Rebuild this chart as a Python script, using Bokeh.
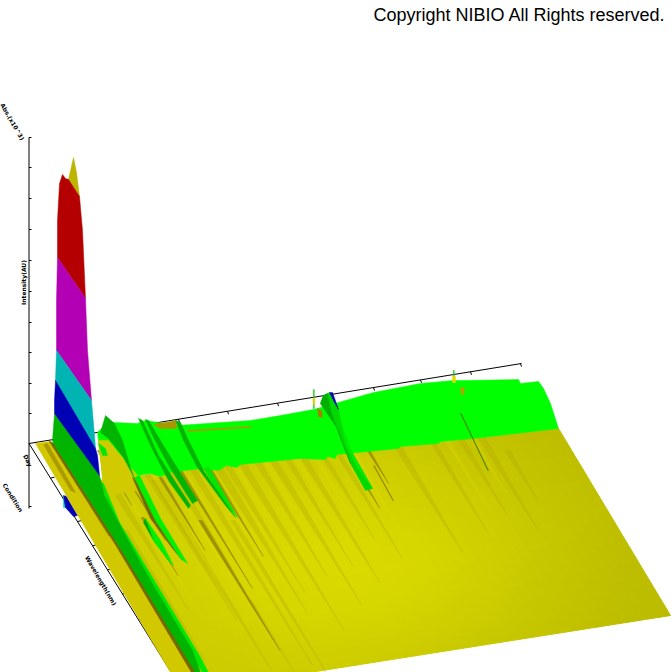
from bokeh.plotting import figure
from bokeh.models import ColumnDataSource
from bokeh.core.properties import value
from bokeh.embed import file_html
from bokeh.resources import INLINE

# ---- chart data (image coordinates) ----
copyright_text = "Copyright NIBIO All Rights reserved."
axis_labels = ["Abs.(x10^3)", "Intensity(AU)", "Day", "Condition", "Wavelength(nm)"]

z_axis = [(28.5, 137), (28.5, 508)]
back_axis = [(28.5, 443), (521, 363)]
front_axis = [(28.5, 443), (172, 674)]
z_ticks = [137, 167, 198, 229, 260, 291, 322, 352, 383, 413, 506]
back_ticks_x = [178, 227, 277, 325, 373, 420, 470, 520]
front_ticks_x = [50, 63, 77, 92, 107, 122, 138, 153, 168]

floor_corners = [(80, 482), (558, 428), (670, 615), (195, 690)]
shade_table = [
    [204, 204, 205, 206, 206, 205, 202, 197, 193, 189],
    [205, 207, 209, 211, 211, 209, 206, 200, 195, 190],
    [206, 209, 212, 214, 214, 212, 208, 203, 196, 191],
    [206, 210, 214, 217, 218, 215, 210, 204, 197, 191],
    [205, 209, 214, 217, 218, 216, 210, 203, 196, 190],
    [204, 208, 212, 215, 215, 212, 207, 200, 194, 189],
    [203, 205, 209, 210, 210, 207, 203, 197, 192, 188],
    [202, 203, 204, 204, 203, 201, 198, 194, 190, 187],
]

peak_olive = [(73, 157), (76, 172), (79, 196), (68, 179)]
peak_red = [(62, 174), (65, 178), (68, 179), (79, 196), (82, 230), (85, 298), (57, 257), (57, 220), (59, 183)]
peak_magenta = [(57, 257), (85, 298), (87, 350), (91, 400), (56, 350), (56, 300)]
peak_cyan = [(56, 350), (91, 400), (94, 435), (95, 448), (55, 380)]
peak_blue = [(55, 380), (95, 448), (97, 455), (99, 475), (54, 413), (54, 400)]
ridge_green = [(54, 413), (99, 475), (104, 495), (125, 535), (150, 580), (192, 650), (200, 672),
               (195, 672), (120, 548), (53, 443), (52, 440)]
ridge_brown = [(53, 443), (120, 548), (197, 672), (191, 672), (116, 546), (49, 441)]
left_yellow = [(35, 443), (50, 441), (53, 443), (117, 543), (197, 672), (170, 672)]
left_dark_1 = [(43, 444), (47, 443), (75, 492), (70, 490)]
left_dark_2 = [(49, 441), (53, 443), (112, 537), (108, 535)]
back_blue = [(63, 495), (66, 496), (77, 515), (73, 516), (65, 507)]
back_cyan = [(63, 495), (64, 496), (66, 507), (63, 507)]

green_top = [(97, 432), (105, 424), (113, 422), (137, 423), (145, 420), (177, 425), (250, 420), (280, 415),
             (313, 409), (338, 402), (373, 392), (420, 383), (453, 380), (462, 380), (518, 379), (520, 383),
             (538, 381), (543, 388), (550, 403), (558, 428), (473, 438), (440, 441), (438, 443), (400, 446),
             (398, 448), (347, 453), (336, 454), (335, 458), (327, 456), (325, 459), (300, 458), (280, 460),
             (240, 464), (236, 467), (226, 465), (218, 470), (200, 468), (185, 470), (170, 472), (160, 476),
             (150, 473), (137, 475), (103, 480)]
notch_yellow = [(98, 440), (108, 440), (122, 457), (137, 475), (137, 490), (104, 495)]

spike_a = [(105, 415), (114, 423), (122, 440), (130, 467), (134, 478), (123, 457), (108, 438), (100, 432)]
spike_a_lit = [(134, 477), (139, 475), (160, 518), (187, 563), (180, 558), (155, 520)]
spike_a_dark = [(132, 477), (136, 480), (157, 520), (182, 560), (172, 548), (150, 518)]
spike_b1 = [(138, 418), (142, 420), (158, 455), (190, 505), (188, 508), (168, 480), (150, 445)]
spike_b2 = [(145, 419), (148, 420), (166, 450), (197, 500), (192, 503), (170, 468), (153, 437)]
spike_c = [(175, 420), (180, 422), (188, 440), (203, 470), (235, 517), (225, 505), (197, 467), (183, 440)]
spike_c_lit = [(203, 468), (208, 466), (237, 517), (226, 505)]
spike_d_lit = [(145, 518), (160, 540), (173, 565), (168, 560), (153, 540), (150, 530)]
spike_d_dark = [(145, 518), (150, 530), (160, 548), (168, 560), (153, 540), (143, 522)]
spike_e = [(98, 443), (105, 448), (107, 455), (102, 455)]
long_lit = [(100, 481), (103, 483), (119, 522), (152, 577), (199, 655), (208, 672), (202, 672), (150, 583), (115, 525)]
olive_base = [(153, 424), (176, 420), (176, 428), (160, 428)]

hump_body = [(320, 403), (323, 395), (329, 392), (333, 400), (338, 409), (345, 440), (372, 488), (365, 490),
             (350, 463), (337, 428)]
hump_shade = [(320, 403), (323, 395), (327, 393), (330, 410), (340, 438), (350, 463), (337, 428)]
hump_lit = [(340, 420), (352, 453), (372, 488), (357, 467), (345, 443)]
hump_blue = [(329, 392), (332, 392), (338, 409), (334, 402)]
thin_spike_1 = [(312.8, 389), (313.8, 389), (313.8, 408), (312.8, 408)]
thin_spike_2 = [(452.8, 370), (453.8, 370), (453.8, 380), (452.8, 380)]
thin_yellow_1 = [(312.5, 398), (314.5, 398), (314, 404), (313, 404)]
thin_yellow_2 = [(452, 376), (455, 376), (455, 382), (452, 382)]
base_brown_1 = [(317, 408), (321, 410), (322, 417), (318, 416)]
base_brown_2 = [(460, 387), (464, 388), (463, 394), (461, 394)]
line_brown = [(187, 430), (250, 426), (250, 427), (187, 431)]
thin_dark_1 = [(460, 413), (460.7, 413), (488, 470), (487.3, 470)]
thin_dark_2 = [(373, 465), (373.7, 465), (393, 500), (392.3, 500)]

# x0, y0, run down the floor, width
dark_streaks = [
    (133, 478, 75, 3), (142, 517, 58, 3), (160, 477, 73, 3), (180, 470, 118, 3), (208, 466, 90, 3),
    (200, 520, 130, 3.5), (98, 450, 55, 2.5), (110, 450, 90, 2), (368, 450, 33, 2.5), (352, 463, 45, 3),
]
olive_streaks = [
    (233, 520, 152, 5), (250, 600, 72, 3), (145, 470, 150, 6), (155, 480, 190, 7), (170, 470, 170, 7),
    (190, 465, 200, 6), (215, 462, 150, 8), (225, 462, 130, 6), (240, 460, 170, 7), (255, 458, 120, 6),
    (270, 455, 150, 7), (285, 455, 110, 5), (300, 452, 130, 6), (320, 450, 90, 5), (335, 448, 110, 5),
    (395, 442, 110, 7), (430, 438, 95, 5), (458, 435, 80, 6), (507, 450, 50, 5), (478, 432, 100, 6),
    (125, 530, 130, 5), (115, 490, 120, 6),
]
light_streaks = [
    (150, 470, 120, 5), (165, 470, 160, 5), (182, 468, 130, 4), (202, 464, 170, 5), (232, 460, 140, 5),
    (262, 456, 130, 5), (292, 452, 150, 5), (312, 452, 100, 4), (350, 448, 90, 5), (445, 438, 70, 4),
    (470, 434, 60, 4), (130, 500, 120, 5),
]

# ---- page ----
p = figure(width=672, height=672, x_range=(0, 672), y_range=(672, 0), x_axis_type=None, y_axis_type=None,
           output_backend="svg", toolbar_location=None, min_border=0, outline_line_color=None,
           background_fill_color="white", border_fill_color="white")
p.grid.visible = False


def poly(pts, color, alpha=1.0):
    p.patch([a for a, _ in pts], [b for _, b in pts], fill_color=color, fill_alpha=alpha,
            line_color=color, line_alpha=alpha, line_width=0.5)


def line(pts, width=1.0):
    p.line([a for a, _ in pts], [b for _, b in pts], line_color="black", line_width=width)


def streak(s, color, alpha):
    x0, y0, run, w = s
    x1, y1 = x0 + 0.61 * run, y0 + run
    mx, my = x0 + 0.61 * run * 0.15, y0 + run * 0.15
    poly([(x0 - w / 2, y0), (x0 + w / 2, y0), (mx + w / 2, my), (x1, y1), (mx - w / 2, my)], color, alpha)


line(z_axis)
line(back_axis)
line(front_axis)
for y in z_ticks:
    line([(28.5, y), (31, y)])
for x in back_ticks_x:
    t = (x - back_axis[0][0]) / (back_axis[1][0] - back_axis[0][0])
    y = back_axis[0][1] + t * (back_axis[1][1] - back_axis[0][1])
    line([(x, y), (x + 1, y + 3)])
for x in front_ticks_x:
    t = (x - front_axis[0][0]) / (front_axis[1][0] - front_axis[0][0])
    y = front_axis[0][1] + t * (front_axis[1][1] - front_axis[0][1])
    line([(x, y), (x + 4, y - 1)])

poly(back_cyan, "#00d8d8")
poly(back_blue, "#0000b4")

# shaded floor: the shade table is smoothed across fine cells
(ax, ay), (bx, by), (cx, cy), (dx, dy) = floor_corners


def floor_point(u, v):
    return (ax + (bx - ax) * u + (dx - ax) * v + (cx - bx - dx + ax) * u * v,
            ay + (by - ay) * u + (dy - ay) * v + (cy - by - dy + ay) * u * v)


def shade(u, v):
    rows, cols = len(shade_table) - 1, len(shade_table[0]) - 1
    r, c = min(v * rows, rows - 1e-6), min(u * cols, cols - 1e-6)
    i, j = int(r), int(c)
    fr, fc = r - i, c - j
    return ((1 - fr) * ((1 - fc) * shade_table[i][j] + fc * shade_table[i][j + 1])
            + fr * ((1 - fc) * shade_table[i + 1][j] + fc * shade_table[i + 1][j + 1]))


NU, NV = 45, 36
xs, ys, cs = [], [], []
for i in range(NV):
    for j in range(NU):
        u0, u1, v0, v1 = j / NU, (j + 1) / NU, i / NV, (i + 1) / NV
        q = [floor_point(u0, v0), floor_point(u1, v0), floor_point(u1, v1), floor_point(u0, v1)]
        xs.append([a for a, _ in q])
        ys.append([b for _, b in q])
        s = int(round(shade((u0 + u1) / 2, (v0 + v1) / 2)))
        cs.append("#%02x%02x00" % (s, s))
p.patches("xs", "ys", source=ColumnDataSource(dict(xs=xs, ys=ys, c=cs)), fill_color="c", line_color="c", line_width=1)

poly(left_yellow, "#d2c800")
poly(left_dark_1, "#aa9a00")
poly(left_dark_2, "#a09000")
poly(notch_yellow, "#d2ca00")

for s in olive_streaks:
    streak(s, "#b0a400", 0.3)
for s in light_streaks:
    streak(s, "#e0dc00", 0.3)
for s in dark_streaks:
    streak(s, "#8c7c00", 0.7)

poly(green_top, "#00ff00")
poly(notch_yellow, "#d2ca00")
poly(line_brown, "#b49600")
poly(thin_dark_1, "#508000")
poly(thin_dark_2, "#908000")

poly(olive_base, "#a89800")
poly(long_lit, "#00e800")
poly(ridge_brown, "#766800")
poly(ridge_green, "#00b400")
poly(spike_a_dark, "#766800")
poly(spike_a_lit, "#00f000")
poly(spike_a, "#00b400")
poly(spike_b1, "#00b400")
poly(spike_b2, "#00b400")
poly(spike_c_lit, "#00e800")
poly(spike_c, "#00b400")
poly(spike_d_dark, "#00a800")
poly(spike_d_lit, "#00f000")
poly(spike_e, "#00e800")

poly(hump_body, "#00d800")
poly(hump_shade, "#00b000")
poly(hump_lit, "#00ee00")
poly(hump_blue, "#0000b4")
poly(thin_spike_1, "#30c030")
poly(thin_spike_2, "#30c030")
poly(thin_yellow_1, "#e8d800")
poly(thin_yellow_2, "#e8d800")
poly(base_brown_1, "#a08000")
poly(base_brown_2, "#c0a000")

poly(peak_olive, "#bcb400")
poly(peak_red, "#b40000")
poly(peak_magenta, "#b400b4")
poly(peak_cyan, "#00b4b4")
poly(peak_blue, "#0000b4")

src = ColumnDataSource(dict(t=[copyright_text], x=[665], y=[14]))
p.text("x", "y", text="t", source=src, text_font=value("Liberation Sans"), text_font_size="18px",
       text_color="black", text_align="right", text_baseline="middle")

label_x = [12, 23, 27.5, 12.5, 100.5]
label_y = [121, 282, 460, 497, 580]
label_angle = [-60, 90, -65, -58, -60]
label_src = ColumnDataSource(dict(t=axis_labels, x=label_x, y=label_y, a=label_angle))
p.text("x", "y", text="t", angle="a", angle_units="deg", source=label_src, text_font=value("DejaVu Sans"),
       text_font_size="6px", text_font_style="bold", text_color="black", text_align="center",
       text_baseline="middle")

open("out.html", "w").write(file_html(p, INLINE))
